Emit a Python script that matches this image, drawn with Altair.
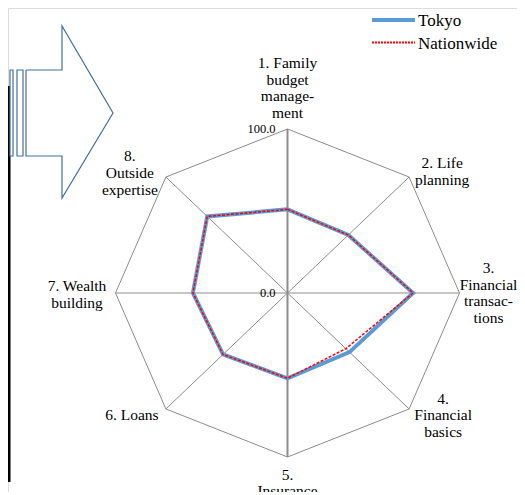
import altair as alt
import pandas as pd
import numpy as np

# ---- data ----
categories = [
    "1. Family\nbudget\nmanage-\nment",
    "2. Life\nplanning",
    "3.\nFinancial\ntransac-\ntions",
    "4.\nFinancial\nbasics",
    "5.\nInsurance",
    "6. Loans",
    "7. Wealth\nbuilding",
    "8.\nOutside\nexpertise",
]
series_names = ["Tokyo", "Nationwide"]
tokyo = [51, 50, 73, 51, 52, 53, 55, 66]
nationwide = [51, 50, 73, 48, 52, 53, 55, 66]
tick_values = [0.0, 100.0]

# ---- layout ----
W, H = 509, 484
CX, CY = 279.5, 285.0
RX, RY = 172.0, 164.0
FONT = "Liberation Serif"
LH = 16.8

x_scale = alt.Scale(domain=[-100, 100], range=[CX - RX, CX + RX], nice=False, zero=False)
y_scale = alt.Scale(domain=[-100, 100], range=[CY + RY, CY - RY], nice=False, zero=False)


def px2vx(px):
    return (px - CX) / RX * 100.0


def px2vy(py):
    return (CY - py) / RY * 100.0


def X(f="x"):
    return alt.X(f + ":Q", scale=x_scale, axis=None)


def Y(f="y"):
    return alt.Y(f + ":Q", scale=y_scale, axis=None)


n = len(categories)
ang = np.deg2rad([90 - 360.0 / n * i for i in range(n)])
cosv, sinv = np.cos(ang), np.sin(ang)

# outer octagon
oct_df = pd.DataFrame({
    "x": [100 * cosv[i % n] for i in range(n + 1)],
    "y": [100 * sinv[i % n] for i in range(n + 1)],
    "o": list(range(n + 1)),
})
octagon = alt.Chart(oct_df).mark_line(color="#8c8c8c", strokeWidth=1).encode(
    x=X(), y=Y(), order="o:Q")

# spokes
sp_df = pd.DataFrame({"x": 0.0, "y": 0.0, "x2": 100 * cosv, "y2": 100 * sinv,
                      "vert": [abs(c) < 1e-9 for c in cosv]})
spokes = alt.Chart(sp_df).mark_rule(color="#8c8c8c", strokeWidth=1).encode(
    x=X(), y=Y(), x2="x2:Q", y2="y2:Q").transform_filter("!datum.vert")
vspokes = alt.Chart(sp_df).mark_rule(color="#8c8c8c", strokeWidth=2).encode(
    x=X(), y=Y(), x2="x2:Q", y2="y2:Q").transform_filter("datum.vert")


def series_df(vals):
    return pd.DataFrame({
        "x": [vals[i % n] * cosv[i % n] for i in range(n + 1)],
        "y": [vals[i % n] * sinv[i % n] for i in range(n + 1)],
        "o": list(range(n + 1)),
    })


tokyo_line = alt.Chart(series_df(tokyo)).mark_line(
    color="#5B9BD5", strokeWidth=4, strokeJoin="miter").encode(x=X(), y=Y(), order="o:Q")
nat_line = alt.Chart(series_df(nationwide)).mark_line(
    color="#FF0000", strokeWidth=1.5, strokeDash=[3, 1.5]).encode(x=X(), y=Y(), order="o:Q")

# category labels: block centre = vertex + pixel offset; first line placed so block is centred
offsets = [(0, -41), (33, -5.5), (29, 0), (34, 6.5), (0, 26), (-34, 6), (-38.5, 1.5), (-36, -4)]
lab_rows = []
for i, c in enumerate(categories):
    vx = CX + RX * cosv[i]
    vy = CY - RY * sinv[i]
    nl = c.count("\n") + 1
    first_y = vy + offsets[i][1] - (nl - 1) * LH / 2.0
    lab_rows.append({"t": c, "x": px2vx(vx + offsets[i][0]), "y": px2vy(first_y)})
lab_df = pd.DataFrame(lab_rows)
labels = alt.Chart(lab_df).mark_text(
    font=FONT, fontSize=15.5, lineHeight=LH, lineBreak="\n", align="center",
    baseline="middle", color="black").encode(x=X(), y=Y(), text="t:N")

# radial tick labels
tk_df = pd.DataFrame({"v": tick_values, "x": 0.0,
                      "t": ["%.1f" % v for v in tick_values]})
ticks = alt.Chart(tk_df).mark_text(
    font=FONT, fontSize=12.5, align="right", baseline="middle", dx=-12, dy=0,
    color="black").encode(x=X(), y=Y("v"), text="t:N")

# legend (manual)
leg_layers = []
leg_styles = [dict(color="#5B9BD5", strokeWidth=4), dict(color="#FF0000", strokeWidth=2, strokeDash=[2, 1])]
for k, name in enumerate(series_names):
    yy = 12 + 22.5 * k
    leg_layers.append(alt.Chart(pd.DataFrame({"s": [name]})).mark_rule(**leg_styles[k]).encode(
        x=alt.value(364), x2=alt.value(407), y=alt.value(yy)))
    leg_layers.append(alt.Chart(pd.DataFrame({"s": [name]})).mark_text(
        font=FONT, fontSize=17, align="left", baseline="middle", color="black").encode(
        x=alt.value(410), y=alt.value(yy + 1), text="s:N"))

# decorative arrow (pixel coords converted to value space)
arrow_px = [(18, 62), (54, 62), (54, 18), (105, 105), (54, 190), (54, 148), (18, 148), (18, 62)]
arr_df = pd.DataFrame({"x": [px2vx(p[0]) for p in arrow_px],
                       "y": [px2vy(p[1]) for p in arrow_px],
                       "o": list(range(len(arrow_px)))})
arrow = alt.Chart(arr_df).mark_line(color="#41719C", strokeWidth=1.2).encode(
    x=X(), y=Y(), order="o:Q")
stripes_px = [(2, 5), (9, 15)]
st_df = pd.DataFrame({"x": [px2vx(a) for a, b in stripes_px], "x2": [px2vx(b) for a, b in stripes_px],
                      "y": px2vy(62), "y2": px2vy(148)})
stripes = alt.Chart(st_df).mark_rect(fill="white", stroke="#41719C", strokeWidth=1.2).encode(
    x=X(), x2="x2:Q", y=Y(), y2="y2:Q")
bar_df = pd.DataFrame({"x": [px2vx(0)], "x2": [px2vx(2.5)], "y": [px2vy(78)], "y2": [px2vy(474)]})
blackbar = alt.Chart(bar_df).mark_rect(fill="black").encode(x=X(), x2="x2:Q", y=Y(), y2="y2:Q")

chart = alt.layer(
    blackbar, arrow, stripes, octagon, spokes, vspokes, tokyo_line, nat_line, labels, ticks, *leg_layers
).properties(
    width=W, height=H, autosize=alt.AutoSizeParams(type="none"), padding=0
).configure_view(stroke=None).configure(background="white")

chart.save("out.html", embed_options={"renderer": "svg", "actions": False})
